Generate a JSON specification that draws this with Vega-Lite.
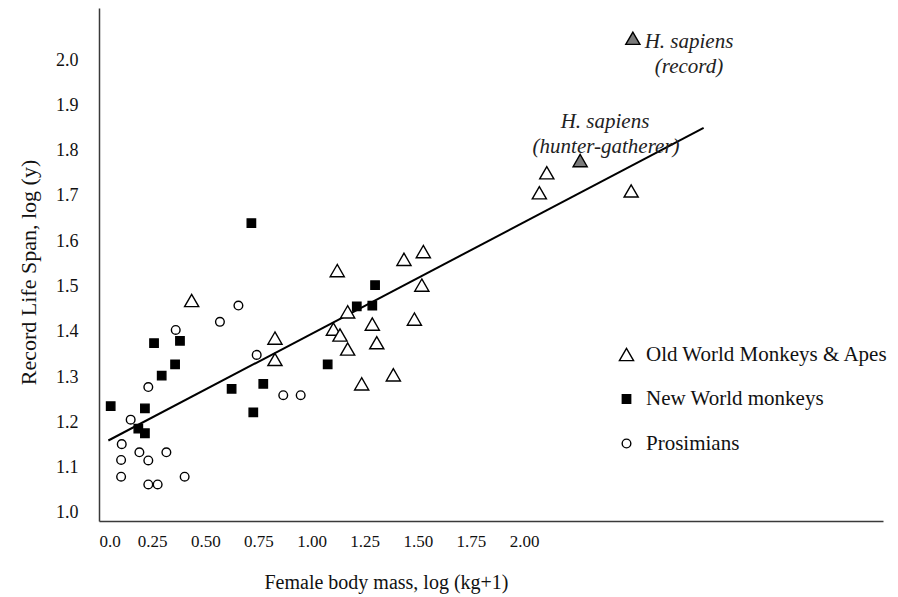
{
  "$schema": "https://vega.github.io/schema/vega-lite/v6.json",
  "width": 784,
  "height": 513,
  "autosize": {"type": "none"},
  "padding": {"left": 99, "top": 8, "right": 15, "bottom": 76},
  "background": "white",
  "config": {
    "view": {"stroke": null},
    "font": "Liberation Serif",
    "axis": {
      "grid": false,
      "ticks": false,
      "tickSize": 0,
      "domainColor": "#3a3a3a",
      "domainWidth": 1.5,
      "labelFont": "Liberation Serif",
      "labelFontSize": 17,
      "labelColor": "#111",
      "titleFont": "Liberation Serif",
      "titleFontSize": 21,
      "titleFontWeight": "normal",
      "titleColor": "#111"
    },
    "legend": {
      "padding": 0,
      "labelFont": "Liberation Serif",
      "labelFontSize": 21,
      "labelColor": "#111",
      "labelLimit": 400
    }
  },
  "datasets": {
    "points": [
      {"x": 0.436, "y": 1.469, "group": "Old World Monkeys & Apes"},
      {"x": 0.828, "y": 1.386, "group": "Old World Monkeys & Apes"},
      {"x": 0.828, "y": 1.339, "group": "Old World Monkeys & Apes"},
      {"x": 1.121, "y": 1.535, "group": "Old World Monkeys & Apes"},
      {"x": 1.435, "y": 1.560, "group": "Old World Monkeys & Apes"},
      {"x": 1.526, "y": 1.577, "group": "Old World Monkeys & Apes"},
      {"x": 1.519, "y": 1.503, "group": "Old World Monkeys & Apes"},
      {"x": 1.170, "y": 1.444, "group": "Old World Monkeys & Apes"},
      {"x": 1.286, "y": 1.417, "group": "Old World Monkeys & Apes"},
      {"x": 1.484, "y": 1.428, "group": "Old World Monkeys & Apes"},
      {"x": 1.103, "y": 1.406, "group": "Old World Monkeys & Apes"},
      {"x": 1.134, "y": 1.393, "group": "Old World Monkeys & Apes"},
      {"x": 1.307, "y": 1.376, "group": "Old World Monkeys & Apes"},
      {"x": 1.170, "y": 1.362, "group": "Old World Monkeys & Apes"},
      {"x": 1.385, "y": 1.305, "group": "Old World Monkeys & Apes"},
      {"x": 1.236, "y": 1.285, "group": "Old World Monkeys & Apes"},
      {"x": 2.107, "y": 1.751, "group": "Old World Monkeys & Apes"},
      {"x": 2.072, "y": 1.707, "group": "Old World Monkeys & Apes"},
      {"x": 2.504, "y": 1.711, "group": "Old World Monkeys & Apes"},
      {"x": 0.055, "y": 1.236, "group": "New World monkeys"},
      {"x": 0.216, "y": 1.231, "group": "New World monkeys"},
      {"x": 0.185, "y": 1.186, "group": "New World monkeys"},
      {"x": 0.216, "y": 1.176, "group": "New World monkeys"},
      {"x": 0.259, "y": 1.375, "group": "New World monkeys"},
      {"x": 0.381, "y": 1.380, "group": "New World monkeys"},
      {"x": 0.358, "y": 1.328, "group": "New World monkeys"},
      {"x": 0.295, "y": 1.303, "group": "New World monkeys"},
      {"x": 0.624, "y": 1.274, "group": "New World monkeys"},
      {"x": 0.773, "y": 1.285, "group": "New World monkeys"},
      {"x": 0.726, "y": 1.222, "group": "New World monkeys"},
      {"x": 0.717, "y": 1.640, "group": "New World monkeys"},
      {"x": 1.076, "y": 1.328, "group": "New World monkeys"},
      {"x": 1.299, "y": 1.503, "group": "New World monkeys"},
      {"x": 1.213, "y": 1.456, "group": "New World monkeys"},
      {"x": 1.286, "y": 1.458, "group": "New World monkeys"},
      {"x": 0.656, "y": 1.458, "group": "Prosimians"},
      {"x": 0.569, "y": 1.422, "group": "Prosimians"},
      {"x": 0.361, "y": 1.404, "group": "Prosimians"},
      {"x": 0.232, "y": 1.278, "group": "Prosimians"},
      {"x": 0.742, "y": 1.349, "group": "Prosimians"},
      {"x": 0.867, "y": 1.260, "group": "Prosimians"},
      {"x": 0.949, "y": 1.260, "group": "Prosimians"},
      {"x": 0.149, "y": 1.206, "group": "Prosimians"},
      {"x": 0.107, "y": 1.152, "group": "Prosimians"},
      {"x": 0.190, "y": 1.134, "group": "Prosimians"},
      {"x": 0.317, "y": 1.134, "group": "Prosimians"},
      {"x": 0.104, "y": 1.117, "group": "Prosimians"},
      {"x": 0.232, "y": 1.116, "group": "Prosimians"},
      {"x": 0.104, "y": 1.080, "group": "Prosimians"},
      {"x": 0.232, "y": 1.063, "group": "Prosimians"},
      {"x": 0.276, "y": 1.063, "group": "Prosimians"},
      {"x": 0.403, "y": 1.080, "group": "Prosimians"}
    ],
    "sapiens": [
      {"x": 2.264, "y": 1.778, "name": "H. sapiens (hunter-gatherer)"},
      {"x": 2.512, "y": 2.048, "name": "H. sapiens (record)"}
    ],
    "fit": [
      {"x": 0.044, "y": 1.160},
      {"x": 2.845, "y": 1.850}
    ],
    "labels": [
      {"x": 2.776, "y": 2.040, "text": "H. sapiens"},
      {"x": 2.776, "y": 1.985, "text": "(record)"},
      {"x": 2.381, "y": 1.863, "text": "H. sapiens"},
      {"x": 2.386, "y": 1.808, "text": "(hunter-gatherer)"}
    ]
  },
  "encoding": {
    "x": {
      "field": "x",
      "type": "quantitative",
      "scale": {"domain": [0, 3.689], "nice": false, "zero": false},
      "axis": {
        "title": "Female body mass, log (kg+1)",
        "values": [0, 0.25, 0.5, 0.75, 1.0, 1.25, 1.5, 1.75, 2.0],
        "labelExpr": "datum.value == 0 ? '0.0' : format(datum.value, '.2f')",
        "labelPadding": 12,
        "titleFontSize": 20,
        "titleX": 287,
        "titleY": 61,
        "titleBaseline": "middle"
      }
    },
    "y": {
      "field": "y",
      "type": "quantitative",
      "scale": {"domain": [0.9823, 2.1148], "nice": false, "zero": false},
      "axis": {
        "title": "Record Life Span, log (y)",
        "values": [1.0, 1.1, 1.2, 1.3, 1.4, 1.5, 1.6, 1.7, 1.8, 1.9, 2.0],
        "format": ".1f",
        "labelFontSize": 18,
        "labelPadding": 21,
        "titleFontSize": 22,
        "titleX": -71,
        "titleY": 264,
        "titleAngle": -90,
        "titleAlign": "center",
        "titleBaseline": "middle"
      }
    }
  },
  "layer": [
    {
      "data": {"name": "fit"},
      "mark": {"type": "line", "color": "black", "strokeWidth": 2},
      "encoding": {}
    },
    {
      "data": {"name": "points"},
      "mark": {"type": "point", "filled": false, "stroke": "black", "strokeWidth": 1.4, "opacity": 1},
      "encoding": {
        "shape": {
          "field": "group",
          "type": "nominal",
          "scale": {
            "domain": ["Old World Monkeys & Apes", "New World monkeys", "Prosimians"],
            "range": ["triangle-up", "square", "circle"]
          },
          "legend": {
            "title": null,
            "orient": "none",
            "legendX": 517,
            "legendY": 336,
            "labelOffset": 9,
            "rowPadding": 22.5,
            "symbolStrokeColor": "black",
            "symbolStrokeWidth": 1.4
          }
        },
        "fill": {
          "field": "group",
          "type": "nominal",
          "scale": {
            "domain": ["Old World Monkeys & Apes", "New World monkeys", "Prosimians"],
            "range": ["white", "black", "white"]
          }
        },
        "size": {
          "field": "group",
          "type": "nominal",
          "scale": {
            "type": "ordinal",
            "domain": ["Old World Monkeys & Apes", "New World monkeys", "Prosimians"],
            "range": [200, 70, 75]
          }
        }
      }
    },
    {
      "data": {"name": "sapiens"},
      "mark": {"type": "point", "shape": "triangle-up", "filled": true, "fill": "#7a7a7a", "stroke": "black", "strokeWidth": 1.4, "size": 200, "opacity": 1},
      "encoding": {}
    },
    {
      "data": {"name": "labels"},
      "mark": {"type": "text", "font": "Liberation Serif", "fontStyle": "italic", "fontSize": 21, "color": "#222", "align": "center", "baseline": "middle"},
      "encoding": {"text": {"field": "text"}}
    }
  ]
}
